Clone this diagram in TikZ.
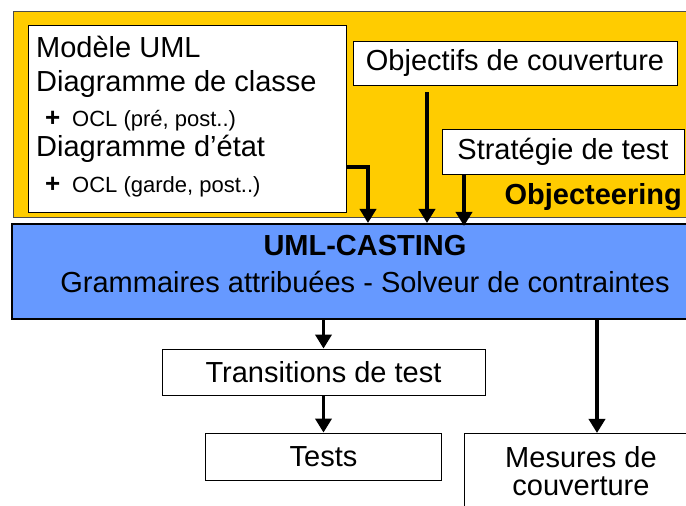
\documentclass[tikz,border=0pt]{standalone}
\usepackage{fontspec}
\setmainfont{Liberation Sans}
\usepackage{tikz}
\usetikzlibrary{
	arrows.meta,
	positioning,
	calc
}
\usepackage{xcolor}
\definecolor{jaune}{HTML}{FFCC00}
\definecolor{bleu}{HTML}{6699FF}

\begin{document}
\begin{tikzpicture}[x=1pt,y=1pt,
	boite/.style={draw=black,fill=white,line width=0.8pt,inner sep=0pt,font=\fontsize{29}{34}\selectfont},
	texte/.style={inner sep=0pt,font=\fontsize{29}{34}\selectfont},
	petit/.style={inner sep=0pt,font=\fontsize{22}{26}\selectfont},
	fleche/.style={line width=3.5pt,-{Triangle[length=14pt,width=16pt]}}
	]
		
		\useasboundingbox (0,0) rectangle (686,506);
		\clip (0,0) rectangle (686,506);
		
		% Objecteering
		\draw[fill=jaune,draw=black!70,line width=0.8pt] (13,289) rectangle (720,495);
		\node[texte,anchor=base east,font=\bfseries\fontsize{29}{34}\selectfont] (objecteering) at (682,301) {Objecteering};
		
		\node[boite,anchor=north west,minimum width=318,minimum height=187] (modele) at (28,481) {};
		\node[texte,anchor=base west] (uml) at (36,448) {Modèle UML};
		\node[texte,anchor=base west] (classe) at (36,414) {Diagramme de classe};
		\node[petit,anchor=base west] (oclclasse) at (45,379) {\makebox[27pt][l]{\bfseries\fontsize{26}{26}\selectfont +}OCL (pré, post..)};
		\node[texte,anchor=base west] (etat) at (36,349) {Diagramme d’état};
		\node[petit,anchor=base west] (ocletat) at (45,313) {\makebox[27pt][l]{\bfseries\fontsize{26}{26}\selectfont +}OCL (garde, post..)};
		
		\node[boite,minimum width=324,minimum height=44] (objectifs) at (515,443) {Objectifs de couverture};
		\node[boite,minimum width=242,minimum height=45] (strategie) at (563,354.5) {Stratégie de test};
		
		% UML-CASTING
		\node[draw=black,fill=bleu,line width=2pt,anchor=south west,minimum width=709,minimum height=95] (casting) at (11,186) {};
		\node[texte,anchor=base,font=\bfseries\fontsize{29}{34}\selectfont] (titre) at (365,250) {UML-CASTING};
		\node[texte,anchor=base] (outils) at (365,213) {Grammaires attribuées - Solveur de contraintes};
		
		\draw[fleche] ($(modele.south east)+(0,46)$) -| (368,0 |- casting.north);
		\draw[fleche,shorten <=7pt] (objectifs.south -| 427,0) -- (427,0 |- casting.north);
		\draw[fleche] (strategie.south -| 464,0) -- ($(464,0 |- casting.north)+(0,-3)$);
		
		% sorties
		\node[boite,minimum width=323,minimum height=46] (transitions) at (323.5,134) {Transitions de test};
		\node[boite,minimum width=236,minimum height=47] (tests) at (323.5,49.5) {Tests};
		\node[boite,anchor=north west,minimum width=236,minimum height=120] (mesures) at (464,73) {};
		\node[texte,align=center,font=\fontsize{29}{28}\selectfont] (mesurestexte) at (581,34.5) {Mesures de\\couverture};
		
		\draw[fleche] (casting.south -| transitions.north) -- (transitions.north);
		\draw[fleche] (transitions.south) -- (tests.north);
		\draw[fleche] (casting.south -| 597,0) -- (597,0 |- mesures.north);
		
	\end{tikzpicture}
\end{document}
